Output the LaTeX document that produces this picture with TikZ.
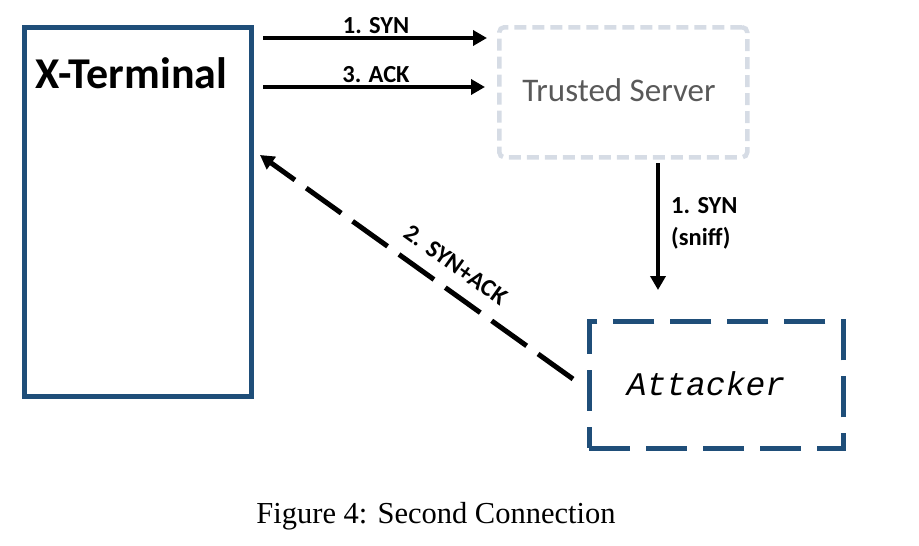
\documentclass[tikz,border=0pt]{standalone}
\usepackage{fontspec}
\setmainfont{Liberation Serif}
\newfontfamily\calibri{Carlito}
\newfontfamily\courier{Liberation Mono}
\usetikzlibrary{arrows.meta}
\definecolor{xblue}{RGB}{31,78,121}
\definecolor{tsgray}{RGB}{214,220,229}
\definecolor{tstext}{RGB}{89,89,89}
\begin{document}
\begin{tikzpicture}[x=1pt,y=-1pt,
  box/.style={draw, inner sep=0pt, anchor=north west},
  msg/.style={line width=4.5pt, -{Triangle[length=14pt,width=15pt]}},
  lbl/.style={font=\calibri\bfseries\fontsize{24.5}{28}\selectfont, inner sep=0pt}]
\useasboundingbox (0,0) rectangle (919,546);
% boxes
\node[box, draw=xblue, line width=5pt, minimum width=227.5pt, minimum height=369pt] (xt) at (21.5,25) {};
\node[box, draw=tsgray, line width=4.5pt, dash pattern=on 12pt off 6pt, rounded corners=5pt, minimum width=248pt, minimum height=130pt] (ts) at (497,25) {};
\node[box, draw=xblue, line width=4.5pt, dash pattern=on 41pt off 16pt, minimum width=254pt, minimum height=127pt] (att) at (587,319) {};
% box texts
\node[font=\calibri\bfseries\fontsize{44}{50}\selectfont, anchor=base, inner sep=0pt] (xtt) at (131.5,88) {X-Terminal};
\node[font=\calibri\fontsize{33}{38}\selectfont, text=tstext, anchor=base, inner sep=0pt] (tst) at (619,101) {Trusted Server};
\node[font=\courier\itshape\fontsize{33}{38}\selectfont, anchor=base, inner sep=0pt] (attt) at (706,395) {Attacker};
% connector end points
\coordinate (a1s) at (263,38); \coordinate (a1e) at (487,38);
\coordinate (a3s) at (263,87); \coordinate (a3e) at (485,87);
\coordinate (vs) at (658,163); \coordinate (ve) at (658,290);
\coordinate (ds) at (573,379); \coordinate (de) at (260,155);
% connectors
\draw[msg] (a1s) -- (a1e);
\draw[msg] (a3s) -- (a3e);
\draw[msg] (vs) -- (ve);
\draw[line width=5pt, dash pattern=on 43pt off 14pt, -{Triangle[length=14pt,width=15pt]}] (ds) -- (de);
% labels
\node[lbl, anchor=base] (l1) at (376,33) {1. SYN};
\node[lbl, anchor=base] (l3) at (376,82) {3. ACK};
\node[lbl, anchor=base west] (lv1) at (671,213) {1. SYN};
\node[lbl, anchor=base west] (lv2) at (671,245) {(sniff)};
\node[lbl, rotate=-35.6] (l2) at (456,265) {2. SYN+ACK};
% caption
\node[font=\fontsize{30.5}{35}\selectfont, anchor=base, inner sep=0pt] (cap) at (436,523) {Figure 4: Second Connection};
\end{tikzpicture}
\end{document}
